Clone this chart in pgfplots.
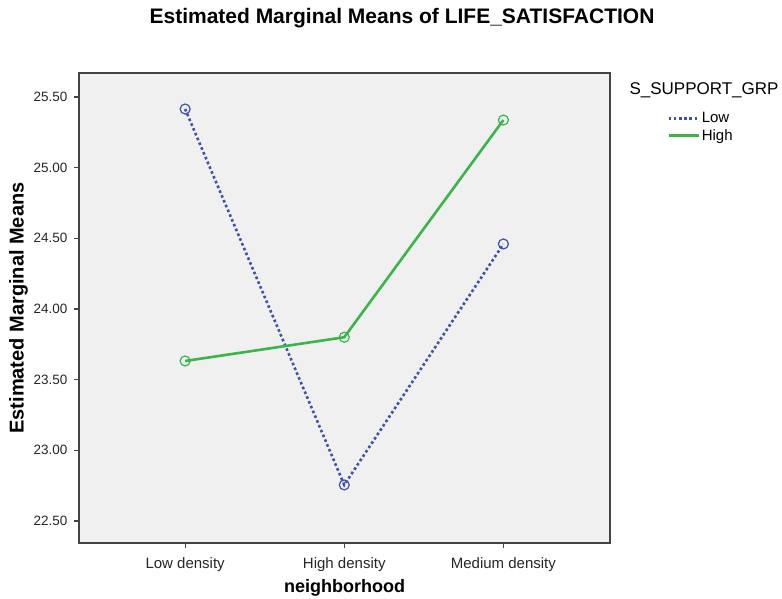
\documentclass[border=0pt]{standalone}
\usepackage{fontspec}
\setmainfont{Liberation Sans}
\usepackage{pgfplots}
\pgfplotsset{compat=1.18}
\definecolor{lowc}{HTML}{3F51A8}
\definecolor{highc}{HTML}{3BB44A}
\definecolor{plotbg}{HTML}{F0F0F0}
\definecolor{framec}{HTML}{444444}
\begin{document}
\begin{tikzpicture}[x=1pt,y=1pt]
\useasboundingbox (0,0) rectangle (782,599);
\begin{axis}[
  at={(79pt,56pt)}, anchor=south west,
  width=531pt, height=470pt, scale only axis,
  xmin=-0.667, xmax=2.67, ymin=22.344, ymax=25.67,
  xtick={0,1,2},
  xticklabels={Low density, High density, Medium density},
  ytick={22.5,23,23.5,24,24.5,25,25.5},
  /pgf/number format/.cd, fixed, fixed zerofill, precision=2, assume math mode=true,
  /pgfplots/.cd,
  tick align=outside, xtick pos=bottom, ytick pos=left,
  major tick length=5pt,
  axis background/.style={fill=plotbg},
  axis line style={draw=framec, line width=1.2pt},
  tick style={draw=framec, line width=1.2pt},
  yticklabel style={font=\fontsize{13.5}{16}\selectfont, text=black!85, xshift=-3pt},
  xticklabel style={font=\fontsize{15}{18}\selectfont, text=black!85, yshift=-6pt},
  xlabel={neighborhood}, ylabel={Estimated Marginal Means},
  xlabel style={font=\bfseries\fontsize{18}{21}\selectfont, yshift=-1pt},
  ylabel style={font=\bfseries\fontsize{20}{23}\selectfont, yshift=-1pt},
  legend style={at={(1.0,0.925)}, anchor=north west, draw=none, fill=none,
    font=\fontsize{15}{18}\selectfont, row sep=1pt, xshift=54pt},
  legend cell align=left,
  legend image code/.code={\draw[#1] (0pt,0pt) -- (30pt,0pt);},
]
\addplot[lowc, line width=2.6pt, dash pattern=on 2.6pt off 2.6pt, mark=o, mark size=5pt, mark options={solid, line width=1.2pt}]
  coordinates {(0,25.415) (1,22.755) (2,24.46)};
\addlegendentry{Low}
\addplot[highc, line width=2.6pt, mark=o, mark size=5pt, mark options={solid, line width=1.2pt}]
  coordinates {(0,23.632) (1,23.80) (2,25.337)};
\addlegendentry{High}
\end{axis}
\node[font=\bfseries\fontsize{21}{25}\selectfont] at (402,581) {Estimated Marginal Means of LIFE\_SATISFACTION};
\node[font=\fontsize{17}{20}\selectfont, anchor=west] at (626,509) {S\_SUPPORT\_GRP};
\end{tikzpicture}
\end{document}
